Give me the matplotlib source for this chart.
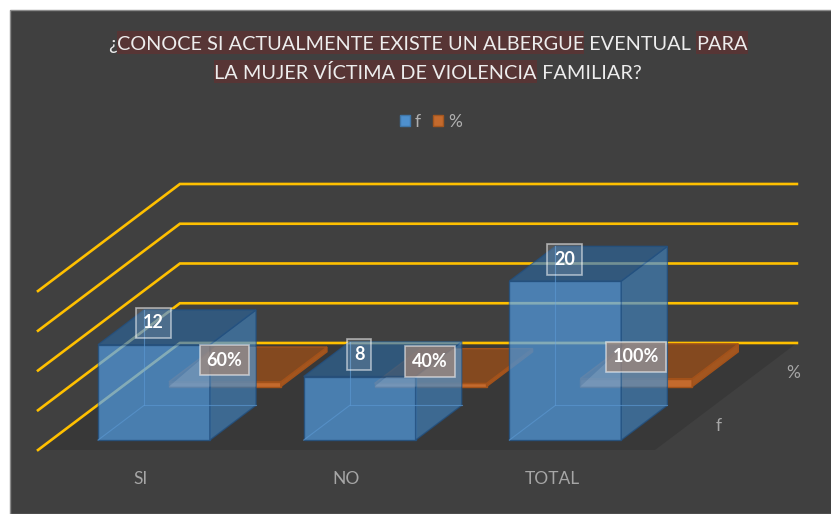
#!/usr/bin/env python3
import matplotlib
matplotlib.use("Agg")
import matplotlib.pyplot as plt
from matplotlib.patches import Patch, Polygon, Rectangle

plt.rcParams['font.family'] = ['Lato', 'DejaVu Sans']

categories = ["SI", "NO", "TOTAL"]
series_names = ["f", "%"]
f_values = [12, 8, 20]
pct_values = [0.6, 0.4, 1.0]
pct_labels = ["60%", "40%", "100%"]
grid_values = [0, 5, 10, 15, 20]
title_lines = [
    [("¿", False), ("CONOCE SI ACTUALMENTE EXISTE UN ALBERGUE", True), (" EVENTUAL ", False), ("PARA", True)],
    [("LA MUJER VÍCTIMA DE VIOLENCIA", True), (" FAMILIAR?", False)],
]

BG = "#404040"
FLOOR = "#383838"
GOLD = "#FFC000"
# oblique 3D look: how far one unit of depth moves a point, in data units
DEPTH_X = 0.690
DEPTH_Y = 13.46
BAR_W = 0.544
BAR_D = 0.325
TITLE_SIZE = 14.3


def project(c, v, d):
    return (c + d * DEPTH_X, v + d * DEPTH_Y)


def poly(ax, pts, **kw):
    p = Polygon([project(*q) for q in pts], closed=True, clip_on=False, **kw)
    ax.add_patch(p)
    return p


def draw_box(ax, c, value, d, front, side, top, edge, alpha, z):
    l, r = c - BAR_W / 2, c + BAR_W / 2
    d0, d1 = d - BAR_D / 2, d + BAR_D / 2
    faces = [
        poly(ax, [(l, 0, d0), (r, 0, d0), (r, value, d0), (l, value, d0)],
             fc=front, ec=edge, lw=1, alpha=alpha, zorder=z),
        poly(ax, [(r, 0, d0), (r, 0, d1), (r, value, d1), (r, value, d0)],
             fc=side, ec=edge, lw=1, alpha=alpha, zorder=z),
        poly(ax, [(l, value, d0), (r, value, d0), (r, value, d1), (l, value, d1)],
             fc=top, ec=edge, lw=1, alpha=alpha, zorder=z),
    ]
    return faces


def clip_to(artist, face):
    # only the face counts, not the axes box
    artist.set_clip_on(True)
    artist.set_clip_box(None)
    artist.set_clip_path(face)


def grid_path(g):
    pts = [project(0, g, 0), project(0, g, 1), project(3, g, 1)]
    return [p[0] for p in pts], [p[1] for p in pts]


fig = plt.figure(figsize=(8.31, 5.14), dpi=100, facecolor="white")
fig.add_artist(Rectangle((10 / 831, 0), 1, 504 / 514, transform=fig.transFigure,
                         fc=BG, ec="#8c8c8c", lw=1, zorder=-2))

ax = fig.add_axes([38 / 831, 64 / 514, 617 / 831, 159 / 514])
ax.set_xlim(0, 3)
ax.set_ylim(0, 20)
ax.patch.set_visible(False)
for s in ax.spines.values():
    s.set_visible(False)
ax.set_yticks([])
ax.set_xticks([i + 0.5 for i in range(len(categories))], categories)
ax.tick_params(axis="x", length=0, pad=15, labelsize=12.5, labelcolor="#a6a6a6")

# floor
poly(ax, [(0, 0, 0), (3, 0, 0), (3, 0, 1), (0, 0, 1)], fc=FLOOR, ec="none", zorder=1)

# gridlines
for g in grid_values:
    xs, ys = grid_path(g)
    ax.plot(xs, ys, color=GOLD, lw=1.9, solid_joinstyle="miter", clip_on=False, zorder=2)

# % series, thin slabs at the back
for i, v in enumerate(pct_values):
    draw_box(ax, i + 0.5, v, 0.755, "#C46A2D", "#A3561F", "#84491F", "#A3521A", 1, 3)

# f series, glass boxes at the front
for i, v in enumerate(f_values):
    c = i + 0.5
    l, r = c - BAR_W / 2, c + BAR_W / 2
    d0, d1 = 0.255 - BAR_D / 2, 0.255 + BAR_D / 2
    faces = draw_box(ax, c, v, 0.255, "#4E90CE", "#3F76A8", "#2F5F8C", "#23507F", 0.8, 4)
    # hidden edges seen through the glass
    for a, b in [((l, 0, d1), (r, 0, d1)), ((l, 0, d1), (l, v, d1)), ((l, 0, d0), (l, 0, d1))]:
        pa, pb = project(*a), project(*b)
        ax.plot([pa[0], pb[0]], [pa[1], pb[1]], color="#5A96CF", lw=0.8, alpha=0.7,
                clip_on=False, zorder=5)
    # gridlines and the % slab look pale through the glass
    sd0, sd1 = 0.755 - BAR_D / 2, 0.755 + BAR_D / 2
    for face in faces:
        for g in grid_values:
            xs, ys = grid_path(g)
            pale, = ax.plot(xs, ys, color="#A8D0E0", lw=1.9, alpha=0.33, zorder=5)
            clip_to(pale, face)
    for face in faces[:2]:
        ghost = poly(ax, [(l, 0, sd0), (r, 0, sd0), (r, pct_values[i], sd1), (l, pct_values[i], sd1)],
                     fc="#B8CDE0", ec="none", alpha=0.2, zorder=5)
        clip_to(ghost, face)

# data labels
for i, v in enumerate(f_values):
    for txt, val, d, fill in [(str(v), v, 0.25, (1, 1, 1, 0.13)),
                              (pct_labels[i], pct_values[i], 0.75, (0.62, 0.52, 0.47, 0.72))]:
        ax.annotate(txt, project(i + 0.5, val, d), xytext=(-16.5, 3.5),
                    textcoords="offset points", ha="center", va="center",
                    color="white", fontsize=13, fontweight="bold", zorder=7,
                    bbox=dict(boxstyle="square,pad=0.38", fc=fill, ec=(1, 1, 1, 0.55), lw=1.2),
                    annotation_clip=False)

# depth axis labels
for name, d, dx in zip(series_names, [0.25, 0.75], [20, 23]):
    ax.annotate(name, project(3, 0, d), xytext=(dx, -2), textcoords="offset points",
                ha="center", va="center", color="#a6a6a6", fontsize=12.5, annotation_clip=False)

# legend
handles = [Patch(fc="#4E90CE", ec="#3F76A8"), Patch(fc="#C46A2D", ec="#A3561F")]
fig.legend(handles, series_names, loc="center", bbox_to_anchor=(431 / 831, 1 - 122 / 514), ncol=2,
           frameon=False, handlelength=0.58, handleheight=0.58, handletextpad=0.3,
           columnspacing=0.7, fontsize=12.5, labelcolor="#b0b0b0")

# title, word by word because of the highlighted runs
fig.canvas.draw()
renderer = fig.canvas.get_renderer()
for line, y in zip(title_lines, [43, 72]):
    widths = []
    for s, hl in line:
        t = fig.text(0, 0, s.replace(" ", "\u00a0"), fontsize=TITLE_SIZE)
        widths.append(t.get_window_extent(renderer).width)
        t.remove()
    x = 428 - sum(widths) / 2
    for (s, hl), w in zip(line, widths):
        if hl:
            fig.add_artist(Rectangle((x / 831, 1 - (y + 11) / 514), w / 831, 23 / 514,
                                     transform=fig.transFigure, fc="#573535", ec="none", zorder=1))
        fig.text(x / 831, 1 - (y + 1.5) / 514, s.replace(" ", "\u00a0"), fontsize=TITLE_SIZE,
                 color="#EDEDED", va="center", ha="left", zorder=5)
        x += w

plt.savefig("out.png", dpi=100)
